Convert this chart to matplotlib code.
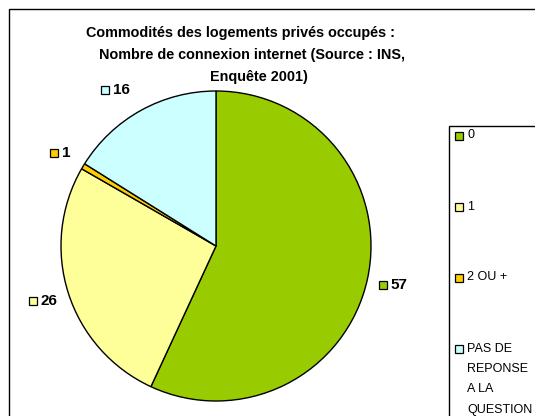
import numpy as np
import matplotlib
matplotlib.use("Agg")
import matplotlib.pyplot as plt
from matplotlib.patches import Rectangle

plt.rcParams['font.family'] = ['Liberation Sans', 'DejaVu Sans']

# données (en %)
categories = ["0", "1", "2 OU +", "PAS DE\nREPONSE\nA LA\nQUESTION"]
values = [56.9, 26.4, 0.6, 16.1]
colors = ["#99CC00", "#FFFF99", "#FFCC00", "#CCFFFF"]
title_lines = ["Commodités des logements privés occupés :",
               "Nombre de connexion internet (Source : INS,",
               "Enquête 2001)"]

W, H = 535, 416
fig = plt.figure(figsize=(W / 100, H / 100), dpi=100)
ax = fig.add_axes([0, 0, 1, 1])
ax.set_xlim(0, W)
ax.set_ylim(0, H)
ax.axis('off')

# cadre extérieur (coupé à droite et en bas)
ax.add_patch(Rectangle((9, -20), 600, H - 9 + 20, fill=False, edgecolor='black', linewidth=1.0))

# camembert, centre et rayon en pixels
cx, cy, R = 216, H - 246, 155
wedges, _ = ax.pie(values, colors=colors, startangle=90, counterclock=False,
                   radius=R, center=(cx, cy),
                   wedgeprops=dict(edgecolor='black', linewidth=1.0))
ax.set_xlim(0, W)
ax.set_ylim(0, H)

# étiquettes de données avec la clé de légende
renderer = fig.canvas.get_renderer()
nudge = {3: (-13, -3)}
for i, w in enumerate(wedges):
    mid = np.deg2rad((w.theta1 + w.theta2) / 2)
    gx = cx + 1.17 * R * np.cos(mid)
    gy = cy + 1.17 * R * np.sin(mid)
    dx, dy = nudge.get(i, (0, 0))
    gx += dx
    gy += dy
    lab = "%d" % round(values[i])
    t = ax.text(0, gy, lab, fontsize=11, fontweight='bold', ha='left', va='center')
    tw = t.get_window_extent(renderer).width
    left = gx - (12 + tw) / 2
    t.set_x(left + 12)
    ax.plot(left + 4, gy, marker='s', ms=5.8, mfc=colors[i], mec='black', mew=0.9)

# titre
title_x = [240, 252, 259]
title_y = [33, 55, 77.5]
for s, x, y in zip(title_lines, title_x, title_y):
    ax.text(x, H - y, s, fontsize=10.4, fontweight='bold', ha='center', va='center')

# légende (coupée à droite et en bas)
ax.add_patch(Rectangle((449, -30), 120, H - 126 + 30, fill=False, edgecolor='black', linewidth=1.0))
ly = [136, 207, 278, 349]
for i, cat in enumerate(categories):
    ax.plot(458.5, H - ly[i], marker='s', ms=5.2, mfc=colors[i], mec='black', mew=0.9)
    ax.text(467, H - ly[i] + 6.5, cat, fontsize=9, ha='left', va='top', linespacing=1.93)

fig.savefig("out.png", dpi=100)
